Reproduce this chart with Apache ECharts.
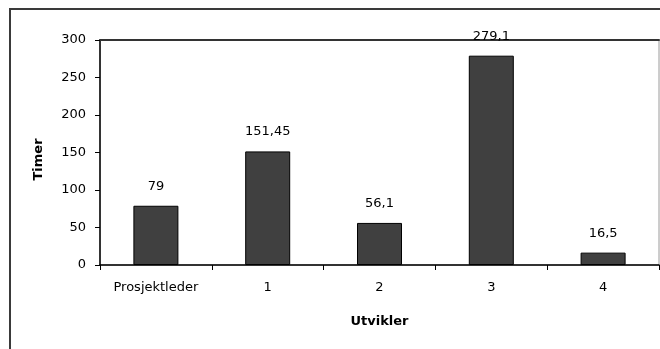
<!DOCTYPE html>
<html>
<head>
<meta charset="utf-8">
<script src="https://cdn.jsdelivr.net/npm/echarts@6/dist/echarts.min.js"></script>
<style>
  html, body { margin: 0; padding: 0; background: #fff; }
  #chart { width: 660px; height: 349px; }
</style>
</head>
<body>
<div id="chart"></div>
<script>
// Hours per role
const categories = ['Prosjektleder', '1', '2', '3', '4'];
const hours = [79, 151.45, 56.1, 279.1, 16.5];
const yTicks = { min: 0, max: 300, interval: 50 };

const FONT = 'DejaVu Sans';
const chart = echarts.init(document.getElementById('chart'), null, { renderer: 'canvas' });

chart.setOption({
  animation: false,
  backgroundColor: '#fff',
  grid: {
    left: 100, top: 40, right: 1, bottom: 84,
    show: true, borderColor: '#9a9a9a', borderWidth: 1
  },
  graphic: [{
    type: 'rect',
    shape: { x: 10, y: 9, width: 720, height: 420 },
    style: { fill: 'none', stroke: '#3a3a3a', lineWidth: 2 },
    silent: true
  }],
  xAxis: [{
    type: 'category',
    data: categories,
    name: 'Utvikler',
    nameLocation: 'middle',
    nameGap: 50,
    nameTextStyle: { fontFamily: FONT, fontSize: 13, fontWeight: 'bold', color: '#000' },
    axisLine: { lineStyle: { color: '#000', width: 1.5 } },
    axisTick: { show: true, length: 5, lineStyle: { color: '#000' } },
    axisLabel: { fontFamily: FONT, fontSize: 13, color: '#000', margin: 16 }
  }, {
    type: 'category',
    data: categories,
    position: 'top',
    axisLine: { show: true, lineStyle: { color: '#333', width: 2 } },
    axisTick: { show: false },
    axisLabel: { show: false }
  }],
  yAxis: {
    type: 'value',
    min: yTicks.min, max: yTicks.max, interval: yTicks.interval,
    name: 'Timer',
    nameLocation: 'middle',
    nameRotate: 90,
    nameGap: 55,
    nameTextStyle: {
      fontFamily: FONT, fontSize: 13, fontWeight: 'bold', color: '#000',
      padding: [0, 14, 0, 0]
    },
    axisLine: { show: true, lineStyle: { color: '#000', width: 1.5 } },
    axisTick: { show: true, length: 5, lineStyle: { color: '#000' } },
    axisLabel: { fontFamily: FONT, fontSize: 13, color: '#000', margin: 14 },
    splitLine: { show: false }
  },
  series: [{
    type: 'bar',
    data: hours,
    barWidth: 45,
    itemStyle: { color: '#404040', borderColor: '#000', borderWidth: 1 },
    label: {
      show: true,
      position: 'top',
      distance: 13,
      fontFamily: FONT,
      fontSize: 13,
      color: '#000',
      formatter: p => String(p.value).replace('.', ',')
    }
  }]
});
</script>
</body>
</html>
